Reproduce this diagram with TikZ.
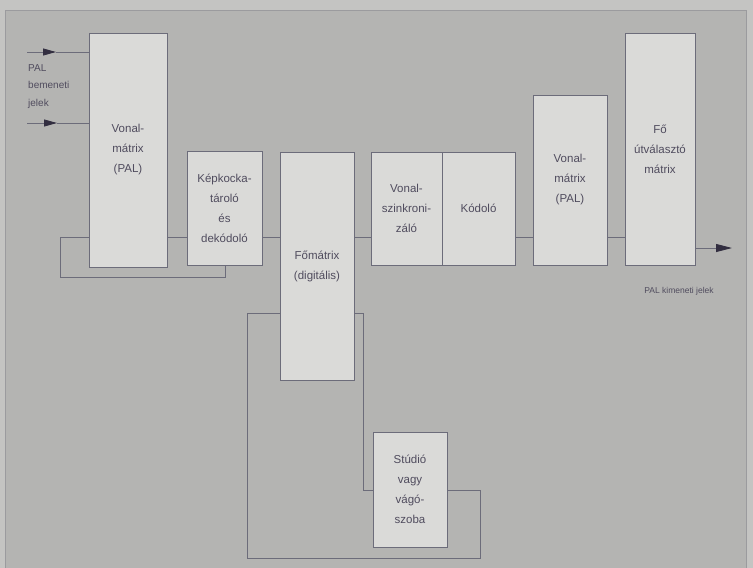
\documentclass[tikz,border=0pt]{standalone}
\usepackage{fontspec}
\setmainfont{Liberation Sans}
\usetikzlibrary{arrows.meta}
\definecolor{bg}{RGB}{180,180,178}
\definecolor{edge}{RGB}{196,196,194}
\definecolor{boxfill}{RGB}{218,218,216}
\definecolor{ln}{RGB}{108,108,122}
\definecolor{tx}{RGB}{80,76,94}
\definecolor{tipc}{RGB}{50,46,64}
\begin{document}
\begin{tikzpicture}[x=1pt,y=-1pt,
  blk/.style={draw=ln,fill=boxfill,line width=0.9pt,inner sep=0pt,text=tx,
    font=\fontsize{11.5}{20}\selectfont,align=center},
  wire/.style={draw=ln,line width=0.9pt},
  tip/.style={-{Triangle[length=13pt,width=7pt,color=tipc]}}]
\useasboundingbox (0,0) rectangle (753,568);
\fill[edge] (0,0) rectangle (753,568);
\fill[bg] (5,10) rectangle (746,568);
\draw[ln!35!bg,line width=0.6pt] (5,568) -- (5,10) -- (746,10) -- (746,568);
% blocks
\node[blk,minimum width=78pt,minimum height=234pt] (v1) at (128,150) {Vonal-\\mátrix\\(PAL)};
\node[blk,minimum width=75pt,minimum height=114pt] (kep) at (224.5,208) {Képkocka-\\tároló\\és\\dekódoló};
\node[blk,minimum width=74pt,minimum height=228pt] (fo) at (317,266) {Főmátrix\\(digitális)};
\node[blk,minimum width=71pt,minimum height=113pt] (szk) at (406.5,208.5) {Vonal-\\szinkroni-\\záló};
\node[blk,minimum width=73pt,minimum height=113pt] (kod) at (478.5,208.5) {Kódoló};
\node[blk,minimum width=74pt,minimum height=170pt] (v2) at (570,180) {Vonal-\\mátrix\\(PAL)};
\node[blk,minimum width=70pt,minimum height=232pt] (fov) at (660,149) {Fő\\útválasztó\\mátrix};
\node[blk,minimum width=74pt,minimum height=115pt] (stu) at (410,489.5) {Stúdió\\vagy\\vágó-\\szoba};
% texts
\node[text=tx,font=\fontsize{10}{17.5}\selectfont,align=left,anchor=north west,inner sep=0pt] (inlab) at (28,64) {PAL\\bemeneti\\jelek};
\node[text=tx,font=\fontsize{8.5}{10}\selectfont,inner sep=0pt] (outlab) at (679,291) {PAL kimeneti jelek};
% coordinates
\coordinate (in1) at (27,52);
\coordinate (in2) at (27,123);
\coordinate (m1) at (56,52);
\coordinate (m2) at (57,123);
\coordinate (Lmain) at (0,237.5);
\coordinate (lpL) at (60,277);
\coordinate (lpR) at (225,277);
\coordinate (bt) at (247,313);
\coordinate (br) at (363,313);
\coordinate (bs) at (363,490);
\coordinate (bx) at (480,490);
\coordinate (bb) at (480,558);
\coordinate (bl) at (247,558);
\coordinate (outL) at (0,248);
\coordinate (outE) at (732,248);
% inputs
\draw[wire,tip] (in1) -- (m1);
\draw[wire] (m1) -- (v1.west |- in1);
\draw[wire,tip] (in2) -- (m2);
\draw[wire] (m2) -- (v1.west |- in2);
% main chain
\draw[wire] (v1.east |- Lmain) -- (kep.west |- Lmain);
\draw[wire] (kep.east |- Lmain) -- (fo.west |- Lmain);
\draw[wire] (fo.east |- Lmain) -- (szk.west |- Lmain);
\draw[wire] (kod.east |- Lmain) -- (v2.west |- Lmain);
\draw[wire] (v2.east |- Lmain) -- (fov.west |- Lmain);
\draw[wire,-{Triangle[length=16pt,width=8pt,color=tipc]}] (fov.east |- outL) -- (outE);
% left loop
\draw[wire] (v1.west |- Lmain) -| (lpL) -- (lpR) -- (lpR |- kep.south);
% bottom loop
\draw[wire] (fo.west |- bt) -- (bt) -- (bl) -- (bb) -- (bx) -- (stu.east |- bx);
\draw[wire] (fo.east |- br) -- (br) -- (bs) -- (stu.west |- bs);
\end{tikzpicture}
\end{document}
